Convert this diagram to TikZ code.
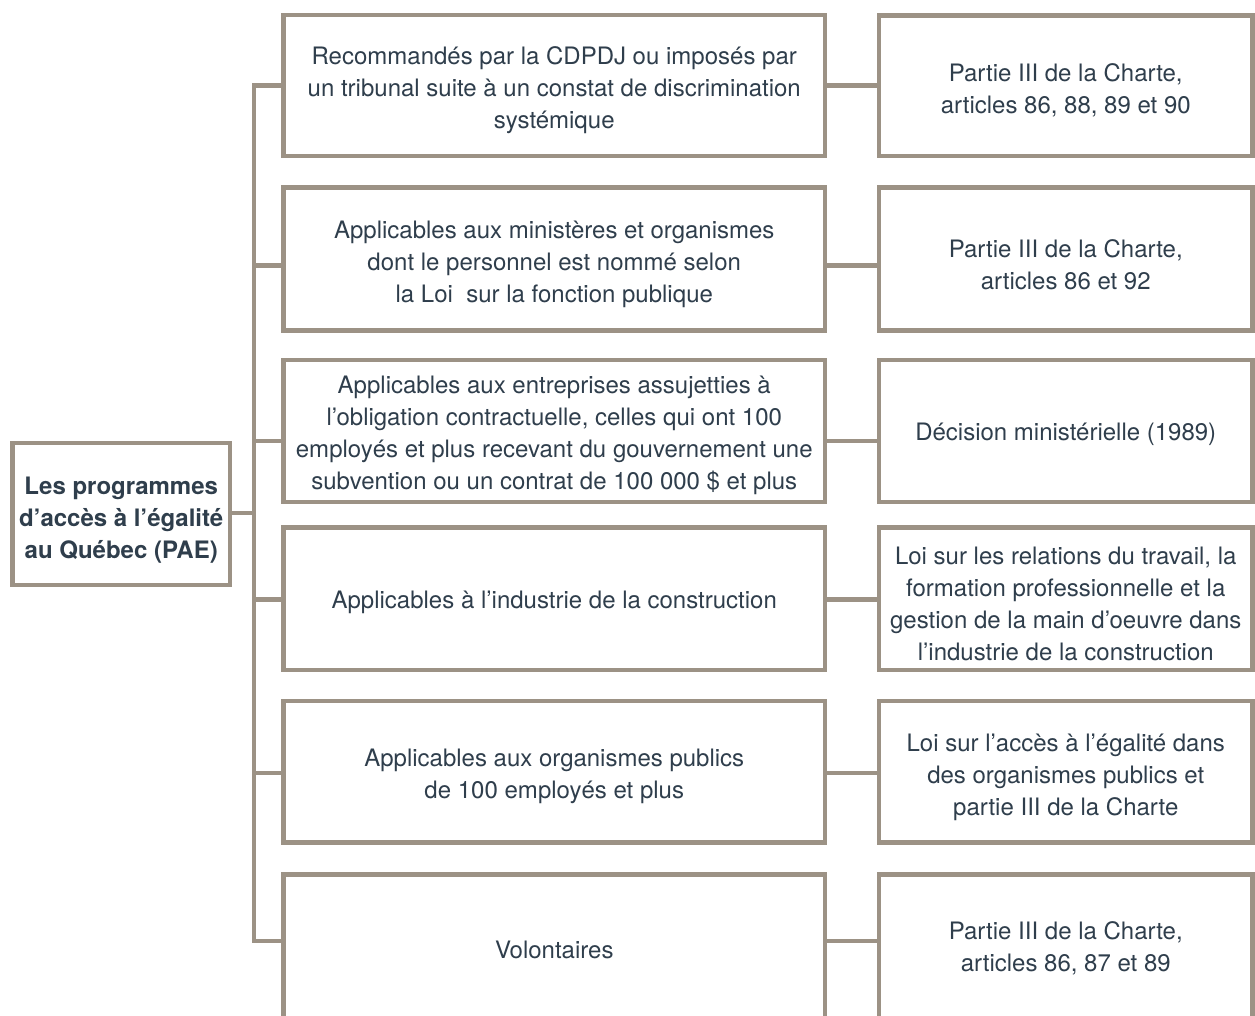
\documentclass[tikz,border=0pt]{standalone}
\usepackage{fontspec}
\setmainfont{TeX Gyre Heros}
\definecolor{linec}{RGB}{156,146,133}
\definecolor{txtc}{RGB}{47,62,76}
\begin{document}
\begin{tikzpicture}[x=1pt,y=-1pt,
  box/.style={draw=linec, line width=4.5pt, fill=white, rectangle, inner sep=0pt},
  midbox/.style={box, minimum width=541.5pt},
  rbox/.style={box, minimum width=373.5pt},
  txt/.style={align=center, text=txtc, font=\fontsize{24}{32}\selectfont, inner sep=0pt},
  conn/.style={draw=linec, line width=4.5pt}]
\fill[white] (0,0) rectangle (1255,1015);
\useasboundingbox (0,0) rectangle (1255,1015);
\clip (0,0) rectangle (1255,1015);

% junction coordinates on the spine
\coordinate (j1) at (254,85.5);
\coordinate (j2) at (254,265.5);
\coordinate (j3) at (254,441);
\coordinate (j4) at (254,599.5);
\coordinate (j5) at (254,773);
\coordinate (j6) at (254,941);
\coordinate (j0) at (254,513);

% boxes
\node[box, minimum width=217.5pt, minimum height=142pt] (l) at (121.25,514) {};
\node[midbox, minimum height=141pt]   (m1) at (554.25,85.5) {};
\node[midbox, minimum height=143pt]   (m2) at (554.25,259) {};
\node[midbox, minimum height=142pt]   (m3) at (554.25,431) {};
\node[midbox, minimum height=142.5pt] (m4) at (554.25,598.75) {};
\node[midbox, minimum height=141.5pt] (m5) at (554.25,771.75) {};
\node[midbox, minimum height=160pt]   (m6) at (554.25,954.5) {};
\node[rbox, minimum height=140.5pt]   (r1) at (1065.75,85.5) {};
\node[rbox, minimum height=143pt]     (r2) at (1065.75,259) {};
\node[rbox, minimum height=142pt]     (r3) at (1065.75,431) {};
\node[rbox, minimum height=142.5pt]   (r4) at (1065.75,598.75) {};
\node[rbox, minimum height=141.5pt]   (r5) at (1065.75,771.75) {};
\node[rbox, minimum height=160pt]     (r6) at (1065.75,954.5) {};

% texts
\node[txt, font=\fontsize{24}{32}\selectfont\bfseries] (lt) at (121.25,520)
  {Les programmes\\d’accès à l’égalité\\au Québec (PAE)};
\node[txt] (m1t) at (554.25,90.5)
  {Recommandés par la CDPDJ ou imposés par\\un tribunal suite à un constat de discrimination\\systémique};
\node[txt] (m2t) at (554.25,264.5)
  {Applicables aux ministères et organismes\\dont le personnel est nommé selon\\la Loi\ \ sur la fonction publique};
\node[txt] (m3t) at (554.25,435.5)
  {Applicables aux entreprises assujetties à\\l’obligation contractuelle, celles qui ont 100\\employés et plus recevant du gouvernement une\\subvention ou un contrat de 100 000 \$ et plus};
\node[txt] (m4t) at (554.25,602.5)
  {Applicables à l’industrie de la construction};
\node[txt] (m5t) at (554.25,776.5)
  {Applicables aux organismes publics\\de 100 employés et plus};
\node[txt] (m6t) at (554.25,949.5)
  {Volontaires};
\node[txt] (r1t) at (1065.75,90.5)
  {Partie III de la Charte,\\articles 86, 88, 89 et 90};
\node[txt] (r2t) at (1065.75,264.5)
  {Partie III de la Charte,\\articles 86 et 92};
\node[txt] (r3t) at (1065.75,434.5)
  {Décision ministérielle (1989)};
\node[txt] (r4t) at (1065.75,603.5)
  {Loi sur les relations du travail, la\\formation professionnelle et la\\gestion de la main d’oeuvre dans\\l’industrie de la construction};
\node[txt] (r5t) at (1065.75,777)
  {Loi sur l’accès à l’égalité dans\\des organismes publics et\\partie III de la Charte};
\node[txt] (r6t) at (1065.75,948.5)
  {Partie III de la Charte,\\articles 86, 87 et 89};

% spine and connectors
\draw[conn] (j1 -| m1.west) -- (j1) -- (j6) -- (j6 -| m6.west);
\draw[conn] (l.east |- j0) -- (j0);
\draw[conn] (j2) -- (j2 -| m2.west);
\draw[conn] (j3) -- (j3 -| m3.west);
\draw[conn] (j4) -- (j4 -| m4.west);
\draw[conn] (j5) -- (j5 -| m5.west);
\draw[conn] (m1.east |- j1) -- (r1.west |- j1);
\draw[conn] (m2.east |- j2) -- (r2.west |- j2);
\draw[conn] (m3.east |- j3) -- (r3.west |- j3);
\draw[conn] (m4.east |- j4) -- (r4.west |- j4);
\draw[conn] (m5.east |- j5) -- (r5.west |- j5);
\draw[conn] (m6.east |- j6) -- (r6.west |- j6);
\end{tikzpicture}
\end{document}
